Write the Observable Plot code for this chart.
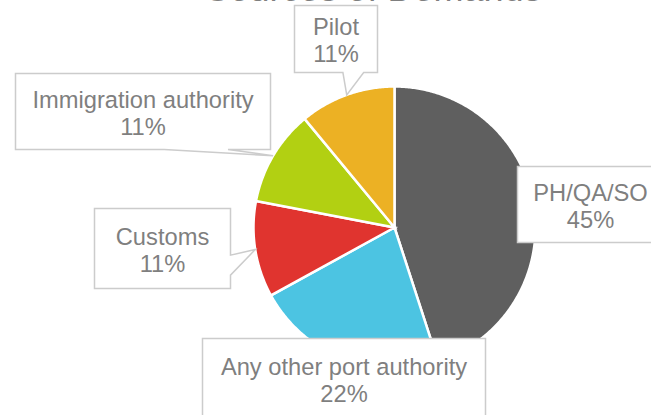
<!DOCTYPE html>
<html>
<head>
<meta charset="utf-8">
<script src="https://cdn.jsdelivr.net/npm/d3@7"></script>
<script src="https://cdn.jsdelivr.net/npm/@observablehq/plot@0.6"></script>
<style>
  html, body { margin: 0; padding: 0; background: #ffffff; }
  #chart { width: 651px; height: 415px; overflow: hidden; }
</style>
</head>
<body>
<div id="chart"></div>
<script>
// ---- data ----
const title = "Sources of Demands";
const categories = ["PH/QA/SO", "Any other port authority", "Customs", "Immigration authority", "Pilot"];
const values = [45, 22, 11, 11, 11];
const sliceColors = ["#5f5f5f", "#4cc4e2", "#e0342f", "#b2d012", "#ecb124"];

// ---- layout (positions of pie and callout boxes, in px) ----
const W = 651, H = 415;
const pie = {cx: 394, cy: 227, r: 141};
const boxLayout = [
  {cx: 590,   cy: 204,  w: 146, h: 76},
  {cx: 343.5, cy: 378,  w: 283, h: 80},
  {cx: 162,   cy: 248,  w: 136, h: 80},
  {cx: 142.5, cy: 111,  w: 255, h: 76},
  {cx: 335.5, cy: 38.5, w: 83,  h: 67}
];

const total = d3.sum(values);
const arcs = d3.pie().sort(null).value(d => d)(values);

// slice outlines derived from pie angles
const slicePts = [];
arcs.forEach((a, i) => {
  slicePts.push({label: categories[i], x: pie.cx, y: pie.cy});
  const steps = Math.max(2, Math.ceil((a.endAngle - a.startAngle) / 0.01));
  for (let k = 0; k <= steps; k++) {
    const t = a.startAngle + (a.endAngle - a.startAngle) * k / steps;
    slicePts.push({label: categories[i], x: pie.cx + pie.r * Math.sin(t), y: pie.cy - pie.r * Math.cos(t)});
  }
});

// callouts (wedge rectangle callouts pointing at slice mid-angle on the rim)
const labels = arcs.map((a, i) => {
  const mid = (a.startAngle + a.endAngle) / 2;
  return {
    label: categories[i],
    pct: Math.round(values[i] / total * 100),
    tip: {x: pie.cx + pie.r * Math.sin(mid), y: pie.cy - pie.r * Math.cos(mid)},
    box: boxLayout[i]
  };
});

function calloutPoints(d) {
  const b = d.box, t = d.tip;
  const x0 = b.cx - b.w / 2, x1 = b.cx + b.w / 2, y0 = b.cy - b.h / 2, y1 = b.cy + b.h / 2;
  const inside = t.x >= x0 && t.x <= x1 && t.y >= y0 && t.y <= y1;
  const dxp = t.x - b.cx, dyp = t.y - b.cy;
  const horiz = Math.abs(dxp) * b.h > Math.abs(dyp) * b.w;
  const xa = x0 + b.w * (dxp > 0 ? 7 : 2) / 12, xb = x0 + b.w * (dxp > 0 ? 10 : 5) / 12;
  const ya = y0 + b.h * (dyp > 0 ? 7 : 2) / 12, yb = y0 + b.h * (dyp > 0 ? 10 : 5) / 12;
  const p = [[x0, y0]];
  if (!inside && !horiz && dyp < 0) p.push([xa, y0], [t.x, t.y], [xb, y0]);
  p.push([x1, y0]);
  if (!inside && horiz && dxp > 0) p.push([x1, ya], [t.x, t.y], [x1, yb]);
  p.push([x1, y1]);
  if (!inside && !horiz && dyp > 0) p.push([xb, y1], [t.x, t.y], [xa, y1]);
  p.push([x0, y1]);
  if (!inside && horiz && dxp < 0) p.push([x0, yb], [t.x, t.y], [x0, ya]);
  return p.map(([x, y]) => ({id: d.label, x, y}));
}
const calloutPts = labels.flatMap(calloutPoints);
const textData = labels.map(d => ({text: `${d.label}\n${d.pct}%`, x: d.box.cx, y: d.box.cy}));

const font = "'Liberation Sans', Arial, Helvetica, sans-serif";

const chart = Plot.plot({
  width: W,
  height: H,
  margin: 0,
  x: {type: "linear", domain: [0, W], range: [0, W], axis: null},
  y: {type: "linear", domain: [0, H], range: [0, H], axis: null},
  color: {domain: categories, range: sliceColors},
  style: {fontFamily: font, background: "#ffffff", overflow: "hidden"},
  marks: [
    Plot.line(slicePts, {x: "x", y: "y", z: "label", fill: "label", stroke: "#ffffff",
      strokeWidth: 2.5, curve: "linear-closed", strokeLinejoin: "miter", strokeMiterlimit: 4}),
    Plot.line(calloutPts, {x: "x", y: "y", z: "id", fill: "#ffffff", stroke: "#cccccc",
      strokeWidth: 1.5, curve: "linear-closed", strokeLinejoin: "miter", strokeMiterlimit: 10}),
    Plot.text(textData, {x: "x", y: "y", text: "text", fontSize: 23.7, lineHeight: 1.14,
      fill: "#7f7f7f", textAnchor: "middle", lineAnchor: "middle", dy: 1}),
    Plot.text([title], {frameAnchor: "top", dx: 47.5, dy: 0.5, lineAnchor: "bottom",
      fontSize: 36, fill: "#7f7f7f", textAnchor: "middle"})
  ]
});
document.getElementById("chart").appendChild(chart);
</script>
</body>
</html>
